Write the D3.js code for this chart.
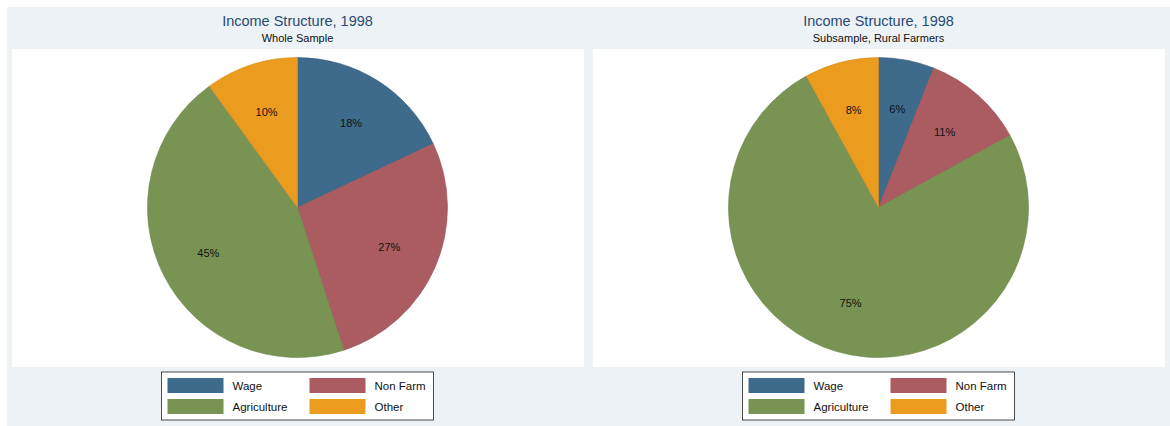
<!DOCTYPE html>
<html>
<head>
<meta charset="utf-8">
<script src="https://cdn.jsdelivr.net/npm/d3@7"></script>
<style>
  html, body { margin: 0; padding: 0; background: #ffffff; }
  svg { display: block; font-family: "Liberation Sans", Arial, Helvetica, sans-serif; }
</style>
</head>
<body>
<svg id="chart" width="1170" height="426"></svg>
<script>
// Income shares by source, in percent
const categories = ["Wage", "Non Farm", "Agriculture", "Other"];
const wholeSample = [18, 27, 45, 10];
const ruralFarmers = [6, 11, 75, 8];
const chartTitle = "Income Structure, 1998";
const subtitles = ["Whole Sample", "Subsample, Rural Farmers"];

const colors = ["#3e6a8c", "#ab5c61", "#799353", "#eb9c1f"];

const svg = d3.select("#chart");

// light outer background shared by both panels
svg.append("rect").attr("x", 7).attr("y", 7).attr("width", 1163).attr("height", 419)
  .attr("fill", "#ecf2f5");

const color = d3.scaleOrdinal().domain(categories).range(colors);

const panels = [
  { values: wholeSample, sub: subtitles[0], x0: 12, x1: 584 },
  { values: ruralFarmers, sub: subtitles[1], x0: 593, x1: 1165 }
];

const plotTop = 49, plotBottom = 367;
const radius = 150;

const pie = d3.pie().sort(null).value(d => d.value);
const arc = d3.arc().innerRadius(0).outerRadius(radius);
const labelArc = d3.arc().innerRadius(radius * 0.667).outerRadius(radius * 0.667);

panels.forEach(p => {
  const cx = (p.x0 + p.x1) / 2 - 0.5;
  const cy = 207.5;
  const g = svg.append("g");

  g.append("rect").attr("x", p.x0).attr("y", plotTop)
    .attr("width", p.x1 - p.x0).attr("height", plotBottom - plotTop)
    .attr("fill", "#ffffff");

  g.append("text").attr("x", cx).attr("y", 26).attr("text-anchor", "middle")
    .attr("font-size", 14.5).attr("fill", "#2b4a74").text(chartTitle);
  g.append("text").attr("x", cx).attr("y", 42).attr("text-anchor", "middle")
    .attr("font-size", 11).attr("fill", "#111").text(p.sub);

  const data = categories.map((c, i) => ({ name: c, value: p.values[i] }));
  const arcs = pie(data);
  const pg = g.append("g").attr("transform", `translate(${cx},${cy})`);

  pg.selectAll("path").data(arcs).join("path")
    .attr("d", arc)
    .attr("fill", d => color(d.data.name))
    .attr("stroke", d => d3.color(color(d.data.name)).darker(0.3))
    .attr("stroke-width", 0.6);

  pg.selectAll("text").data(arcs).join("text")
    .attr("transform", d => `translate(${labelArc.centroid(d)})`)
    .attr("text-anchor", "middle")
    .attr("dy", "0.35em")
    .attr("font-size", 11)
    .attr("fill", "#111")
    .text(d => d.data.value + "%");

  // legend
  const lx = cx - 136, ly = 372;
  const lg = g.append("g");
  lg.append("rect").attr("x", lx).attr("y", ly).attr("width", 272).attr("height", 48)
    .attr("fill", "#ffffff").attr("stroke", "#222").attr("stroke-width", 0.8);
  categories.forEach((c, i) => {
    const col = i % 2, row = Math.floor(i / 2);
    const sx = lx + 6 + col * 142;
    const sy = ly + 6 + row * 21;
    lg.append("rect").attr("x", sx).attr("y", sy).attr("width", 56).attr("height", 15)
      .attr("fill", color(c));
    lg.append("text").attr("x", sx + 65).attr("y", sy + 12)
      .attr("font-size", 11.5).attr("fill", "#111").text(c);
  });
});
</script>
</body>
</html>
